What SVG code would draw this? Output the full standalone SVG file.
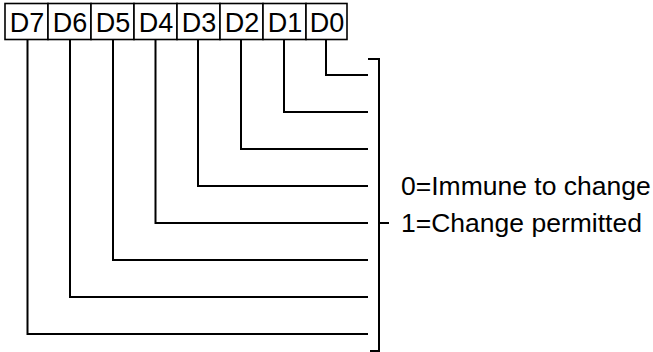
<svg xmlns="http://www.w3.org/2000/svg" width="653" height="352" viewBox="0 0 653 352">
<style>
.box{fill:#fff;stroke:#000;stroke-width:1.6}
.lbl{font-family:"Liberation Sans",Arial,sans-serif;font-size:27px;fill:#000;text-anchor:middle}
.note{font-family:"Liberation Sans",Arial,sans-serif;font-size:26.5px;fill:#000}
.wire{fill:none;stroke:#000;stroke-width:2}
</style>
<rect width="653" height="352" fill="#fff"/>
<g id="register">
<g id="D7"><rect class="box" x="5" y="3.5" width="43" height="36"/><text class="lbl" x="27" y="31.5">D7</text></g>
<g id="D6"><rect class="box" x="48" y="3.5" width="43" height="36"/><text class="lbl" x="70" y="31.5">D6</text></g>
<g id="D5"><rect class="box" x="91" y="3.5" width="43" height="36"/><text class="lbl" x="113" y="31.5">D5</text></g>
<g id="D4"><rect class="box" x="134" y="3.5" width="43" height="36"/><text class="lbl" x="156" y="31.5">D4</text></g>
<g id="D3"><rect class="box" x="177" y="3.5" width="43" height="36"/><text class="lbl" x="199" y="31.5">D3</text></g>
<g id="D2"><rect class="box" x="220" y="3.5" width="43" height="36"/><text class="lbl" x="242" y="31.5">D2</text></g>
<g id="D1"><rect class="box" x="263" y="3.5" width="43" height="36"/><text class="lbl" x="285" y="31.5">D1</text></g>
<g id="D0"><rect class="box" x="306" y="3.5" width="41" height="36"/><text class="lbl" x="327" y="31.5">D0</text></g>
</g>
<g id="connectors">
<path class="wire" d="M326 40 V75 H368"/>
<path class="wire" d="M284 40 V112 H368"/>
<path class="wire" d="M241 40 V149 H368"/>
<path class="wire" d="M198 40 V186 H368"/>
<path class="wire" d="M155.5 40 V223 H368"/>
<path class="wire" d="M113 40 V260 H368"/>
<path class="wire" d="M70 40 V297 H368"/>
<path class="wire" d="M27.5 40 V334 H368"/>
<path class="wire" d="M368 59 H379 V351 H370"/>
<path class="wire" d="M379 223 H389"/>
</g>
<g id="legend">
<text class="note" x="401" y="195">0=Immune to change</text>
<text class="note" x="401" y="232">1=Change permitted</text>
</g>
</svg>
